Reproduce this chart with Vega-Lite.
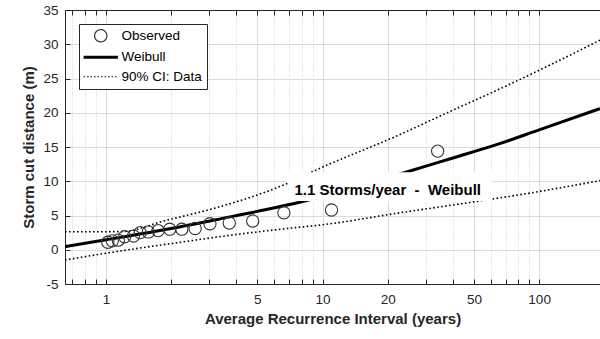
{
  "$schema": "https://vega.github.io/schema/vega-lite/v6.json",
  "autosize": {"type": "none"},
  "width": 535,
  "height": 274,
  "padding": {"left": 65, "top": 10, "right": 0, "bottom": 55},
  "background": "white",
  "config": {
    "view": {"stroke": null},
    "font": "Liberation Sans",
    "axis": {
      "domainColor": "#262626",
      "tickColor": "#262626",
      "labelColor": "#262626",
      "labelFont": "Liberation Sans",
      "labelFontSize": 13.5,
      "titleFont": "Liberation Sans",
      "titleFontSize": 15,
      "titleFontWeight": "bold",
      "titleColor": "#262626",
      "gridColor": "#dcdcdc",
      "gridWidth": 1,
      "tickSize": -5
    },
    "axisY": {
      "title": "Storm cut distance (m)",
      "values": [-5, 0, 5, 10, 15, 20, 25, 30, 35],
      "labelExpr": "'' + datum.value",
      "labelOverlap": false,
      "grid": true,
      "labelPadding": 12,
      "titlePadding": 6
    }
  },
  "datasets": {
    "observed": [
      {"x": 1.02, "y": 1.1, "series": "Observed"},
      {"x": 1.07, "y": 1.3, "series": "Observed"},
      {"x": 1.14, "y": 1.4, "series": "Observed"},
      {"x": 1.22, "y": 1.9, "series": "Observed"},
      {"x": 1.34, "y": 2.0, "series": "Observed"},
      {"x": 1.44, "y": 2.5, "series": "Observed"},
      {"x": 1.57, "y": 2.6, "series": "Observed"},
      {"x": 1.74, "y": 2.8, "series": "Observed"},
      {"x": 1.97, "y": 3.0, "series": "Observed"},
      {"x": 2.24, "y": 3.0, "series": "Observed"},
      {"x": 2.58, "y": 3.1, "series": "Observed"},
      {"x": 3.02, "y": 3.8, "series": "Observed"},
      {"x": 3.71, "y": 3.9, "series": "Observed"},
      {"x": 4.76, "y": 4.2, "series": "Observed"},
      {"x": 6.63, "y": 5.4, "series": "Observed"},
      {"x": 11.0, "y": 5.8, "series": "Observed"},
      {"x": 34.0, "y": 14.4, "series": "Observed"}
    ],
    "weibull": [
      {"x": 0.647, "y": 0.45, "series": "Weibull"},
      {"x": 1, "y": 1.45, "series": "Weibull"},
      {"x": 2, "y": 3.1, "series": "Weibull"},
      {"x": 3.74, "y": 4.8, "series": "Weibull"},
      {"x": 5, "y": 5.6, "series": "Weibull"},
      {"x": 8, "y": 7.0, "series": "Weibull"},
      {"x": 12, "y": 8.5, "series": "Weibull"},
      {"x": 23.6, "y": 11.2, "series": "Weibull"},
      {"x": 40, "y": 13.4, "series": "Weibull"},
      {"x": 63, "y": 15.3, "series": "Weibull"},
      {"x": 100, "y": 17.5, "series": "Weibull"},
      {"x": 191, "y": 20.6, "series": "Weibull"}
    ],
    "ci": [
      {"x": 0.647, "y": 2.62, "bound": "upper", "series": "90% CI: Data"},
      {"x": 1.18, "y": 2.65, "bound": "upper", "series": "90% CI: Data"},
      {"x": 1.9, "y": 4.3, "bound": "upper", "series": "90% CI: Data"},
      {"x": 3.12, "y": 6.0, "bound": "upper", "series": "90% CI: Data"},
      {"x": 6.9, "y": 9.7, "bound": "upper", "series": "90% CI: Data"},
      {"x": 9.73, "y": 11.9, "bound": "upper", "series": "90% CI: Data"},
      {"x": 21.6, "y": 16.5, "bound": "upper", "series": "90% CI: Data"},
      {"x": 40.1, "y": 20.4, "bound": "upper", "series": "90% CI: Data"},
      {"x": 66, "y": 23.5, "bound": "upper", "series": "90% CI: Data"},
      {"x": 100, "y": 26.2, "bound": "upper", "series": "90% CI: Data"},
      {"x": 191, "y": 30.6, "bound": "upper", "series": "90% CI: Data"},
      {"x": 0.647, "y": -1.5, "bound": "lower", "series": "90% CI: Data"},
      {"x": 1, "y": -0.5, "bound": "lower", "series": "90% CI: Data"},
      {"x": 2, "y": 0.9, "bound": "lower", "series": "90% CI: Data"},
      {"x": 4.16, "y": 2.3, "bound": "lower", "series": "90% CI: Data"},
      {"x": 7.87, "y": 3.3, "bound": "lower", "series": "90% CI: Data"},
      {"x": 9.7, "y": 3.6, "bound": "lower", "series": "90% CI: Data"},
      {"x": 22.8, "y": 5.4, "bound": "lower", "series": "90% CI: Data"},
      {"x": 50, "y": 7.0, "bound": "lower", "series": "90% CI: Data"},
      {"x": 100, "y": 8.5, "bound": "lower", "series": "90% CI: Data"},
      {"x": 191, "y": 10.1, "bound": "lower", "series": "90% CI: Data"}
    ],
    "note": [
      {"label": "1.1 Storms/year\u00a0\u00a0-\u00a0\u00a0Weibull"}
    ]
  },
  "layer": [
    {
      "data": {"name": "weibull"},
      "mark": {"type": "line", "strokeWidth": 3, "clip": true, "interpolate": "monotone"},
      "encoding": {
        "x": {
          "field": "x",
          "type": "quantitative",
          "scale": {"type": "log", "domain": [0.647, 191], "nice": false},
          "axis": {
            "orient": "bottom",
            "title": "Average Recurrence Interval (years)",
            "values": [0.7, 0.8, 0.9, 1, 2, 3, 4, 5, 6, 7, 8, 9, 10, 20, 30, 40, 50, 60, 70, 80, 90, 100],
            "grid": true,
            "gridDash": {"condition": {"test": "indexof([1,5,10,20,50,100], datum.value) >= 0", "value": []}, "value": [1, 2]},
            "gridColor": {"condition": {"test": "indexof([1,5,10,20,50,100], datum.value) >= 0", "value": "#dcdcdc"}, "value": "#cfcfcf"},
            "labelExpr": "indexof([1,5,10,20,50,100], datum.value) >= 0 ? format(datum.value, '~g') : ''",
            "labelPadding": 13,
            "titlePadding": 6
          }
        },
        "y": {
          "field": "y",
          "type": "quantitative",
          "scale": {"domain": [-5, 35], "nice": false, "zero": false},
          "title": "Storm cut distance (m)"
        },
        "color": {
          "field": "series",
          "type": "nominal",
          "scale": {"domain": ["Observed", "Weibull", "90% CI: Data"], "range": ["#333333", "#000000", "#000000"]},
          "legend": {
            "title": null,
            "orient": "none",
            "legendX": 14,
            "legendY": 14,
            "strokeColor": "#262626",
            "fillColor": "white",
            "padding": 5,
            "symbolSize": 150,
            "symbolType": "M-2.8,0H2.8",
            "symbolOffset": 10,
            "symbolStrokeWidth": 1.2,
            "labelFont": "Liberation Sans",
            "labelFontSize": 13.5,
            "labelColor": "#000000",
            "labelOffset": 14,
            "rowPadding": 4.5,
            "encode": {
              "symbols": {
                "update": {
                  "shape": {"signal": "datum.value === 'Observed' ? 'circle' : 'M-2.8,0H2.8'"},
                  "strokeWidth": {"signal": "datum.value === 'Weibull' ? 3 : 1.2"},
                  "strokeDash": {"signal": "datum.value === '90% CI: Data' ? [1.5, 2] : [1, 0]"},
                  "stroke": {"signal": "datum.value === 'Observed' ? '#333333' : '#000000'"},
                  "fill": {"value": "transparent"},
                  "opacity": {"value": 1}
                }
              }
            }
          }
        }
      }
    },
    {
      "data": {"name": "ci"},
      "mark": {"type": "line", "strokeWidth": 1.6, "strokeDash": [1.6, 2.4], "clip": true, "interpolate": "monotone"},
      "encoding": {
        "x": {
          "field": "x",
          "type": "quantitative",
          "axis": {
            "orient": "top",
            "title": null,
            "values": [0.7, 0.8, 0.9, 1, 2, 3, 4, 5, 6, 7, 8, 9, 10, 20, 30, 40, 50, 60, 70, 80, 90, 100],
            "grid": false,
            "labels": false
          }
        },
        "y": {"field": "y", "type": "quantitative", "title": "Storm cut distance (m)"},
        "detail": {"field": "bound"},
        "color": {"field": "series", "type": "nominal"}
      }
    },
    {
      "data": {"name": "note"},
      "mark": {"type": "rect", "fill": "white", "stroke": null},
      "encoding": {
        "x": {"datum": 6.93, "type": "quantitative", "axis": null},
        "x2": {"datum": 60.7},
        "y": {"datum": 7.1, "type": "quantitative", "title": "Storm cut distance (m)"},
        "y2": {"datum": 11.3}
      }
    },
    {
      "data": {"name": "note"},
      "mark": {"type": "text", "font": "Liberation Sans", "fontSize": 15, "fontWeight": "bold", "fill": "black", "align": "center", "baseline": "alphabetic"},
      "encoding": {
        "x": {"datum": 20, "type": "quantitative", "axis": null},
        "y": {"datum": 8.0, "type": "quantitative", "title": "Storm cut distance (m)"},
        "text": {"field": "label"}
      }
    },
    {
      "data": {"name": "observed"},
      "mark": {"type": "point", "shape": "circle", "filled": false, "size": 150, "strokeWidth": 1.1, "opacity": 1},
      "encoding": {
        "x": {"field": "x", "type": "quantitative", "axis": null},
        "y": {"field": "y", "type": "quantitative", "title": "Storm cut distance (m)"},
        "color": {"field": "series", "type": "nominal"}
      }
    }
  ],
  "resolve": {"axis": {"x": "independent"}}
}
